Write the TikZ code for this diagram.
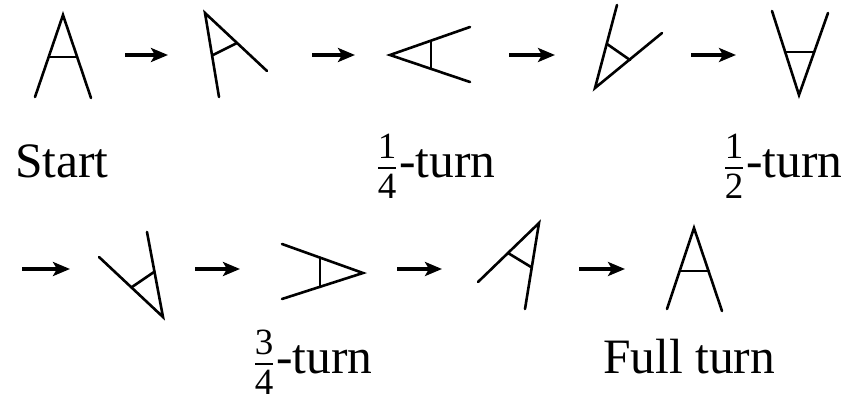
\documentclass[tikz,border=0pt]{standalone}
\usepackage{fontspec}
\setmainfont{Liberation Serif}
\usetikzlibrary{arrows.meta}
\newcommand{\turnfrac}[2]{\begingroup\fontsize{37}{37}\selectfont
  \rlap{\raisebox{19pt}{\makebox[18pt]{#1}}}%
  \rlap{\raisebox{-21pt}{\makebox[18pt]{#2}}}%
  \raisebox{8pt}{\rule{18pt}{2pt}}\endgroup\kern3pt}
\begin{document}
\begin{tikzpicture}[x=1pt,y=-1pt,
  glyph/.style={line width=2.6pt, line cap=round},
  turnarrow/.style={line width=3.4pt, -{Stealth[length=17pt,width=14pt,inset=4pt]}},
  lbl/.style={anchor=base west, inner sep=0pt, font=\fontsize{49.5}{58}\selectfont}]
\useasboundingbox (0,0) rectangle (856,401);
% figure 1: start
\draw[glyph] (35,97) -- (63,15) -- (91,98);
\draw[glyph] (49,57) -- (77,57);
% figure 2
\draw[glyph] (219,97) -- (205,13) -- (267,71);
\draw[glyph] (213,55) -- (237,43);
% figure 3: quarter turn
\draw[glyph] (470,27) -- (390,55) -- (470,82);
\draw[glyph] (431,41) -- (431,69);
% figure 4
\draw[glyph] (617,5) -- (595,88) -- (662,33);
\draw[glyph] (607,44) -- (630,60);
% figure 5: half turn
\draw[glyph] (772,11) -- (799,95) -- (828,13);
\draw[glyph] (785,52) -- (814,52);
% figure 6
\draw[glyph] (147,232) -- (163,317) -- (99,257);
\draw[glyph] (132,287) -- (154,272);
% figure 7: three-quarter turn
\draw[glyph] (282,244) -- (363,273) -- (282,299);
\draw[glyph] (320,258) -- (320,287);
% figure 8
\draw[glyph] (478,282) -- (539,223) -- (525,309);
\draw[glyph] (508,253) -- (531,267);
% figure 9: full turn
\draw[glyph] (667,309) -- (694,228) -- (722,311);
\draw[glyph] (680,271) -- (709,271);
% arrows
\coordinate (a1s) at (125,55); \coordinate (a1e) at (168,55);
\coordinate (a2s) at (312,55); \coordinate (a2e) at (355,55);
\coordinate (a3s) at (509,55); \coordinate (a3e) at (555,55);
\coordinate (a4s) at (691,55); \coordinate (a4e) at (736,55);
\coordinate (a5s) at (22,269); \coordinate (a5e) at (70,269);
\coordinate (a6s) at (195,269); \coordinate (a6e) at (240,269);
\coordinate (a7s) at (397,269); \coordinate (a7e) at (442,269);
\coordinate (a8s) at (579,269); \coordinate (a8e) at (625,269);
\foreach \i in {1,...,8} {\draw[turnarrow] (a\i s) -- (a\i e);}
% labels
\node[lbl] (lstart) at (15,177) {Start};
\node[lbl] (lquarter) at (378,177) {\turnfrac{1}{4}-turn};
\node[lbl] (lhalf) at (725,177) {\turnfrac{1}{2}-turn};
\node[lbl] (lthree) at (255,373) {\turnfrac{3}{4}-turn};
\node[lbl] (lfull) at (603,373) {Full turn};
\end{tikzpicture}
\end{document}
